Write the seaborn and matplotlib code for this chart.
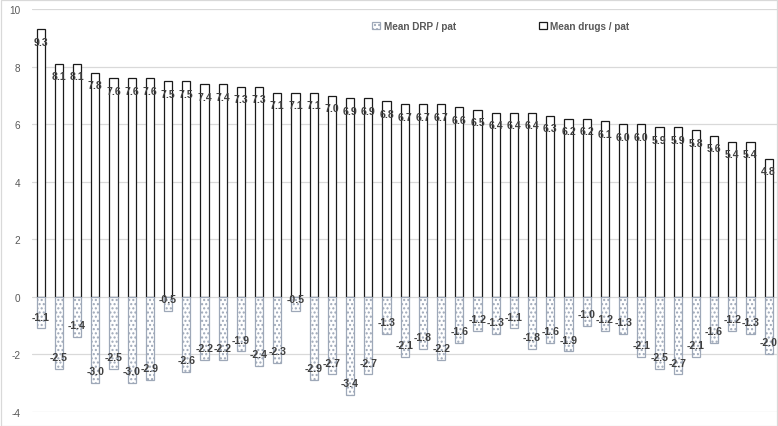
import matplotlib
matplotlib.use("Agg")
import matplotlib.pyplot as plt
from matplotlib import font_manager
from matplotlib.patches import Rectangle
import seaborn as sns
import pandas as pd

# ---- data ----
groups = [str(i) for i in range(1, 42)]
mean_drugs = [9.3, 8.1, 8.1, 7.8, 7.6, 7.6, 7.6, 7.5, 7.5, 7.4, 7.4, 7.3,
              7.3, 7.1, 7.1, 7.1, 7.0, 6.9, 6.9, 6.8, 6.7, 6.7, 6.7, 6.6, 6.5, 6.4, 6.4,
              6.4, 6.3, 6.2, 6.2, 6.1, 6.0, 6.0, 5.9, 5.9, 5.8, 5.6, 5.4, 5.4, 4.8]
mean_drp = [-1.1, -2.5, -1.4, -3.0, -2.5, -3.0, -2.9, -0.5, -2.6, -2.2, -2.2, -1.9,
            -2.4, -2.3, -0.5, -2.9, -2.7, -3.4, -2.7, -1.3, -2.1, -1.8, -2.2, -1.6, -1.2, -1.3, -1.1,
            -1.8, -1.6, -1.9, -1.0, -1.2, -1.3, -2.1, -2.5, -2.7, -2.1, -1.6, -1.2, -1.3, -2.0]
series_names = ["Mean DRP / pat", "Mean drugs / pat"]
y_ticks = [-4, -2, 0, 2, 4, 6, 8, 10]

df = pd.DataFrame({"group": groups, "drugs": mean_drugs, "drp": mean_drp})

sns.set_theme(style="white")
installed = {f.name for f in font_manager.fontManager.ttflist}
main_font = "Liberation Sans" if "Liberation Sans" in installed else "DejaVu Sans"
plt.rcParams["font.family"] = [main_font, "DejaVu Sans"]
plt.rcParams["hatch.linewidth"] = 1.0

fig = plt.figure(figsize=(7.78, 4.27), dpi=100)
ax = fig.add_axes([31.6 / 778, 1 - 412.8 / 427, (777.8 - 31.6) / 778, (412.8 - 10.3) / 427])

for y in y_ticks:
    ax.axhline(y, color="#d9d9d9", lw=0.9, zorder=0)

sns.barplot(data=df, x="group", y="drugs", order=groups, color="white",
            edgecolor="#1a1a1a", linewidth=0.9, width=0.46, ax=ax,
            label=series_names[1], zorder=2)
sns.barplot(data=df, x="group", y="drp", order=groups, color="white",
            edgecolor="#9ea8b8", linewidth=0.9, width=0.46, ax=ax,
            label=series_names[0], hatch="....", zorder=2)

n = len(groups)
drug_bars = ax.patches[:n]
drp_bars = ax.patches[n:2 * n]

lab_kw = dict(ha="center", va="center", fontsize=7.6, fontweight="bold",
              color="#404040", textcoords="offset points", zorder=5)
for bar, v in zip(drug_bars, mean_drugs):
    xc = bar.get_x() + bar.get_width() / 2
    ax.annotate(f"{v:.1f}", (xc, v), xytext=(0, -9), **lab_kw)
for bar, v in zip(drp_bars, mean_drp):
    xc = bar.get_x() + bar.get_width() / 2
    ax.annotate(f"{v:.1f}", (xc, v), xytext=(0, 8.5), **lab_kw)

ax.set_xlim(-0.5, n - 0.5)
ax.set_ylim(-4, 10)
ax.set_yticks(y_ticks)
ax.set_yticklabels([str(t) for t in y_ticks], color="#595959", fontsize=7.2)
ax.set_xticks([])
ax.set_xlabel("")
ax.set_ylabel("")
ax.tick_params(axis="y", length=0, pad=8)
for s in ax.spines.values():
    s.set_visible(False)

if ax.get_legend() is not None:
    ax.get_legend().remove()
handles = [drp_bars[0], drug_bars[0]]
leg = fig.legend(handles, series_names, loc="center",
                 bbox_to_anchor=(501 / 778, 1 - 27 / 427), ncol=2, frameon=False,
                 fontsize=7.2, handlelength=0.8, handleheight=0.8,
                 handletextpad=0.35, columnspacing=8.3, borderpad=0.2)
for t in leg.get_texts():
    t.set_color("#595959")
    t.set_fontweight("bold")

fig.patches.append(Rectangle((0.5 / 778, 0.5 / 427), 1 - 1.5 / 778, 1 - 1.5 / 427,
                             transform=fig.transFigure, fill=False,
                             edgecolor="#d9d9d9", lw=0.9))

fig.savefig("out.png", dpi=100)
